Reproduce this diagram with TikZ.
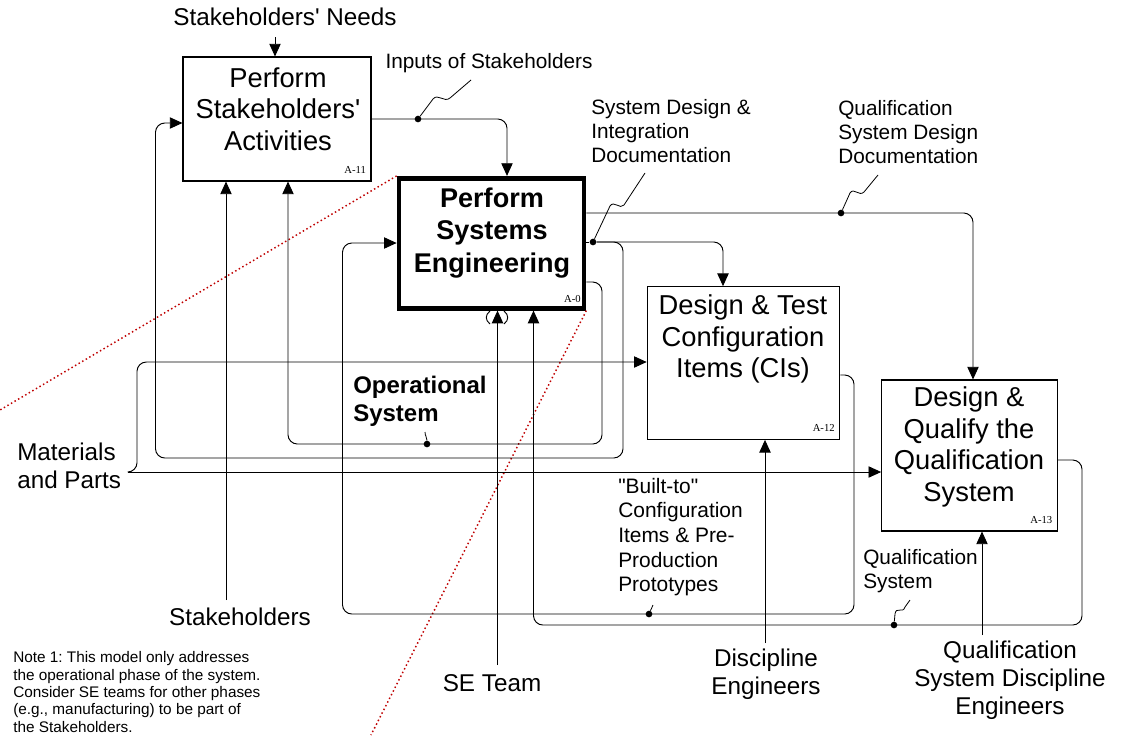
\documentclass[tikz,border=0pt]{standalone}
\usepackage{fontspec}
\setmainfont{Liberation Sans}[Ligatures=TeXOff]
\newfontfamily\idfont{Liberation Serif}
\usetikzlibrary{arrows.meta}
\frenchspacing

\begin{document}
\begin{tikzpicture}[
    x=0.75pt, y=-0.75pt,
    wire/.style={line width=0.7pt},
    flow/.style={wire, -{Triangle[length=9.5pt, width=8.5pt]}},
    box/.style={rectangle, draw, line width=0.8pt, inner sep=0pt},
    mainbox/.style={box, line width=3.5pt},
    boxtitle/.style={align=center, inner sep=0pt, font=\fontsize{20.5}{23.8}\selectfont},
    maintitle/.style={boxtitle, font=\fontsize{20.3}{24.2}\selectfont\bfseries},
    boxid/.style={anchor=south east, inner xsep=4pt, inner ysep=6pt, font=\idfont\fontsize{8}{9}\selectfont},
    smalltext/.style={align=left, inner sep=0pt, font=\fontsize{15.6}{18.2}\selectfont},
    bigtext/.style={align=center, inner sep=0pt, font=\fontsize{18.2}{21}\selectfont},
    notetext/.style={align=left, inner sep=0pt, font=\fontsize{11.5}{13}\selectfont},
    joint/.style={circle, fill, inner sep=0pt, minimum size=5pt},
    squiggle/.style={line width=0.6pt},
    zoomline/.style={draw=red!75!black, dotted, line width=1.1pt}
]
\useasboundingbox (0,0) rectangle (1131,736);

% Activity boxes
\node[box, minimum width=141pt, minimum height=93pt] (a11) at (277,119) {};
\node[mainbox, minimum width=138.75pt, minimum height=97.5pt] (a0) at (491.5,243.25) {};
\node[box, minimum width=144.4pt, minimum height=114.5pt] (a12) at (743.5,363) {};
\node[box, minimum width=131.7pt, minimum height=113.25pt] (a13) at (969.5,455.5) {};

\node[boxtitle] (a11title) at (278,109) {Perform\\Stakeholders'\\Activities};
\node[maintitle] (a0title) at (492,233) {Perform\\Systems\\Engineering};
\node[boxtitle] (a12title) at (743,339) {Design \& Test\\Configuration\\Items (CIs)};
\node[boxtitle] (a13title) at (969,447) {Design \&\\Qualify the\\Qualification\\System};

\node[boxid] (a11id) at (a11.south east) {A-11};
\node[boxid] (a0id) at (a0.south east) {A-0};
\node[boxid] (a12id) at (a12.south east) {A-12};
\node[boxid] (a13id) at (a13.south east) {A-13};

% Zoom lines to the parent diagram
\draw[zoomline] (a0.north west) -- (0,410);
\draw[zoomline] (a0.south east) -- (371,735);

% Labels
\node[bigtext] (needs) at (285,17) {Stakeholders' Needs};
\node[smalltext] (inputs) at (489,63) {Inputs of Stakeholders};
\node[smalltext, anchor=west] (sysdoc) at (591,131) {System Design \&\\Integration\\Documentation};
\node[smalltext, anchor=west] (qualdoc) at (838,132) {Qualification\\System Design\\Documentation};
\node[bigtext, anchor=west, align=left, font=\fontsize{18}{21}\selectfont\bfseries] (opsys) at (353,401) {Operational\\System};
\node[bigtext, anchor=west, align=left] (materials) at (17,466) {Materials\\and Parts};
\node[smalltext, anchor=west, font=\fontsize{15.7}{18.5}\selectfont] (builtto) at (618,537) {"Built-to"\\Configuration\\Items \& Pre-\\Production\\Prototypes};
\node[smalltext, anchor=west] (qualsys) at (863,571) {Qualification\\System};
\node[bigtext] (stakeholders) at (240,617) {Stakeholders};
\node[bigtext] (seteam) at (492,683) {SE Team};
\node[bigtext] (discipline) at (766,674) {Discipline\\Engineers};
\node[bigtext] (qualeng) at (1010,680) {Qualification\\System Discipline\\Engineers};
\node[notetext, anchor=west] (note) at (13,692) {Note 1: This model only addresses\\the operational phase of the system.\\Consider SE teams for other phases\\(e.g., manufacturing) to be part of\\the Stakeholders.};

% Inputs from outside
\coordinate (needsin) at (275,37);
\coordinate (stkin) at (226,600);
\coordinate (sein) at (497.5,665);
\coordinate (discin) at (765,643);
\coordinate (qualin) at (982,635);
\coordinate (matin) at (128,472);

\draw[flow] (needsin) -- (needsin |- a11.north);
\draw[flow] (stkin) -- (stkin |- a11.south);
\draw[flow] (sein) -- (sein |- a0.south);
\draw[flow] (discin) -- (discin |- a12.south);
\draw[flow] (qualin) -- (qualin |- a13.south);
\draw[flow] (matin) -- (a13.west |- matin);
\draw[flow, rounded corners=7pt] (matin) -| (137,362) -- (a12.west |- 0,362);

% Tunnel on SE Team
\draw[wire] (490,311) .. controls (485,315) and (485,320) .. (490,324);
\draw[wire] (504,311) .. controls (509,315) and (509,320) .. (504,324);

% Outputs and feedback
\node[joint] (inputsdot) at (418,119) {};
\draw[flow, rounded corners=7pt] (a11.east) -| (507,0 |- a0.north);

\node[joint] (qualdocdot) at (841,213) {};
\draw[flow, rounded corners=7pt] (a0.east |- 0,213) -| (973,0 |- a13.north);

\node[joint] (sysdocdot) at (593,242) {};
\draw[wire] (a0.east |- sysdocdot) -- (sysdocdot);
\draw[flow, rounded corners=7pt] (sysdocdot) -| (723,0 |- a12.north);
\draw[flow, rounded corners=7pt] (sysdocdot) -| (623,458) -| (155.5,123) -- (a11.west |- 0,123);

\node[joint] (opsysdot) at (427,444) {};
\draw[flow, rounded corners=7pt] (a0.east |- 0,282) -| (602,444) -| (288,0 |- a11.south);

\node[joint] (builttodot) at (649,614) {};
\draw[flow, rounded corners=7pt] (a12.east |- 0,375) -| (854,614) -| (342.5,243) -- (a0.west |- 0,243);

\node[joint] (qualsysdot) at (894,625) {};
\draw[flow, rounded corners=7pt] (a13.east |- 0,460) -| (1082,625) -| (533.5,0 |- a0.south);

% Squiggles to labels
\draw[squiggle] (inputsdot) -- (433,99) .. controls (438,93) and (444,103) .. (450,98) -- (471,80);
\draw[squiggle] (sysdocdot) -- (610,206) .. controls (614,200) and (620,210) .. (624,205) -- (645,173);
\draw[squiggle] (qualdocdot) -- (850,193) .. controls (854,187) and (859,197) .. (864,192) -- (878,175);
\draw[squiggle] (qualsysdot) -- (895,614) .. controls (896,606) and (903,614) .. (905,607) -- (910,600);
\draw[squiggle] (opsysdot) .. controls (427,437) and (425,436) .. (425,432);
\draw[squiggle] (builttodot) .. controls (651,609) and (652,608) .. (653,605);

\end{tikzpicture}
\end{document}
